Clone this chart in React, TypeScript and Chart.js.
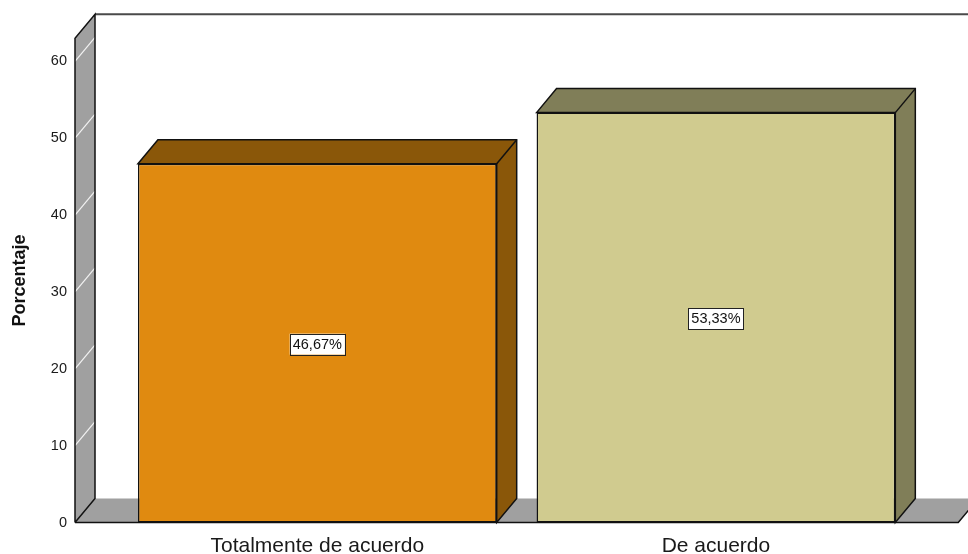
import React, { useEffect, useRef } from "react";
import { Chart, registerables } from "chart.js";

Chart.register(...registerables);

const categories = ["Totalmente de acuerdo", "De acuerdo"];
const percentages = [46.67, 53.33];
const yTicksMax = 63;
const yTickStep = 10;

const frontColors = ["#E08A10", "#D0CB8F"];
const sideColors = ["#8A5709", "#807E58"];
const DX = 20;
const DY = -24;
const FONT = "'Liberation Sans', Arial, sans-serif";

const depthPlugin = {
  id: "depth3d",
  beforeDatasetsDraw(chart: any) {
    const { ctx, chartArea: ca } = chart;
    const y = chart.scales.y;
    const base = y.getPixelForValue(0);
    const top = y.getPixelForValue(y.max);
    const wallX = ca.left - 43;
    const floorR = ca.right + 43;
    ctx.save();
    // back plane top border
    ctx.strokeStyle = "#4a4a4a";
    ctx.lineWidth = 2;
    ctx.beginPath();
    ctx.moveTo(wallX + DX, top + DY);
    ctx.lineTo(chart.width + 5, top + DY);
    ctx.stroke();
    // floor
    ctx.fillStyle = "#A0A0A0";
    ctx.beginPath();
    ctx.moveTo(wallX, base);
    ctx.lineTo(wallX + DX, base + DY);
    ctx.lineTo(floorR + DX, base + DY);
    ctx.lineTo(floorR, base);
    ctx.closePath();
    ctx.fill();
    ctx.strokeStyle = "#111";
    ctx.lineWidth = 1.5;
    ctx.beginPath();
    ctx.moveTo(wallX, base);
    ctx.lineTo(floorR, base);
    ctx.lineTo(floorR + DX, base + DY);
    ctx.stroke();
    // left wall
    ctx.fillStyle = "#A0A0A0";
    ctx.beginPath();
    ctx.moveTo(wallX, base);
    ctx.lineTo(wallX, top);
    ctx.lineTo(wallX + DX, top + DY);
    ctx.lineTo(wallX + DX, base + DY);
    ctx.closePath();
    ctx.fill();
    // wall grid lines
    ctx.strokeStyle = "#f2f2f2";
    ctx.lineWidth = 1.2;
    y.ticks.forEach((t: any) => {
      if (t.value <= 0) return;
      const py = y.getPixelForValue(t.value);
      ctx.beginPath();
      ctx.moveTo(wallX, py);
      ctx.lineTo(wallX + DX, py + DY);
      ctx.stroke();
    });
    ctx.strokeStyle = "#111";
    ctx.lineWidth = 1.5;
    ctx.beginPath();
    ctx.moveTo(wallX, base);
    ctx.lineTo(wallX, top);
    ctx.lineTo(wallX + DX, top + DY);
    ctx.lineTo(wallX + DX, base + DY);
    ctx.lineTo(wallX, base);
    ctx.stroke();
    // bar sides and tops
    const meta = chart.getDatasetMeta(0);
    meta.data.forEach((bar: any, i: number) => {
      const p = bar.getProps(["x", "y", "width", "base"], true);
      const l = p.x - p.width / 2;
      const r = p.x + p.width / 2;
      const t = p.y;
      const b = p.base;
      ctx.fillStyle = sideColors[i];
      ctx.strokeStyle = "#111";
      ctx.lineWidth = 1.5;
      ctx.beginPath();
      ctx.moveTo(l, t);
      ctx.lineTo(l + DX, t + DY);
      ctx.lineTo(r + DX, t + DY);
      ctx.lineTo(r + DX, b + DY);
      ctx.lineTo(r, b);
      ctx.lineTo(r, t);
      ctx.closePath();
      ctx.fill();
      ctx.stroke();
      ctx.beginPath();
      ctx.moveTo(r, t);
      ctx.lineTo(r + DX, t + DY);
      ctx.stroke();
    });
    ctx.restore();
  },
  afterDatasetsDraw(chart: any) {
    const { ctx } = chart;
    const meta = chart.getDatasetMeta(0);
    ctx.save();
    ctx.font = `14.5px ${FONT}`;
    ctx.textAlign = "center";
    ctx.textBaseline = "middle";
    meta.data.forEach((bar: any, i: number) => {
      const p = bar.getProps(["x", "y", "base"], true);
      const cy = (p.y + p.base) / 2 + 1;
      const txt = percentages[i].toFixed(2).replace(".", ",") + "%";
      const w = ctx.measureText(txt).width + 6;
      const h = 21;
      ctx.fillStyle = "#fff";
      ctx.fillRect(p.x - w / 2, cy - h / 2, w, h);
      ctx.strokeStyle = "#222";
      ctx.lineWidth = 1;
      ctx.strokeRect(Math.round(p.x - w / 2) + 0.5, Math.round(cy - h / 2) + 0.5, Math.round(w), h);
      ctx.fillStyle = "#111";
      ctx.fillText(txt, p.x, cy + 0.5);
    });
    ctx.restore();
  },
};

export default function App() {
  const ref = useRef<HTMLCanvasElement | null>(null);
  useEffect(() => {
    document.body.style.margin = "0";
    if (!ref.current) return;
    const chart = new Chart(ref.current, {
      type: "bar",
      data: {
        labels: categories,
        datasets: [
          {
            data: percentages,
            backgroundColor: frontColors,
            borderColor: "#111",
            borderWidth: 1.5,
            borderSkipped: false,
            categoryPercentage: 0.9,
            barPercentage: 1,
          },
        ],
      },
      options: {
        animation: false,
        responsive: false,
        devicePixelRatio: 1,
        layout: { padding: { left: 9, right: 52.75, top: 38.3, bottom: 0 } },
        plugins: { legend: { display: false }, tooltip: { enabled: false } },
        scales: {
          x: {
            grid: { display: false, drawTicks: false },
            border: { display: false },
            ticks: { color: "#1a1a1a", font: { family: FONT, size: 21 }, padding: 11 },
            afterFit: (s: any) => {
              s.height = 31.5;
              s.paddingLeft = 0;
              s.paddingRight = 0;
            },
          },
          y: {
            min: 0,
            max: yTicksMax,
            grid: { display: false, drawTicks: false },
            border: { display: false },
            ticks: {
              stepSize: yTickStep,
              includeBounds: false,
              color: "#1a1a1a",
              font: { family: FONT, size: 14.5 },
              padding: 51,
            },
            title: {
              display: true,
              text: "Porcentaje",
              color: "#111",
              font: { family: FONT, size: 18, weight: "bold" },
              padding: { top: 0, bottom: 0 },
            },
            afterFit: (s: any) => {
              s.width = 109;
              s.paddingTop = 0;
              s.paddingBottom = 0;
            },
          },
        },
      },
      plugins: [depthPlugin],
    });
    return () => chart.destroy();
  }, []);
  return (
    <div style={{ width: 968, height: 554 }}>
      <canvas ref={ref} width={968} height={554} />
    </div>
  );
}
